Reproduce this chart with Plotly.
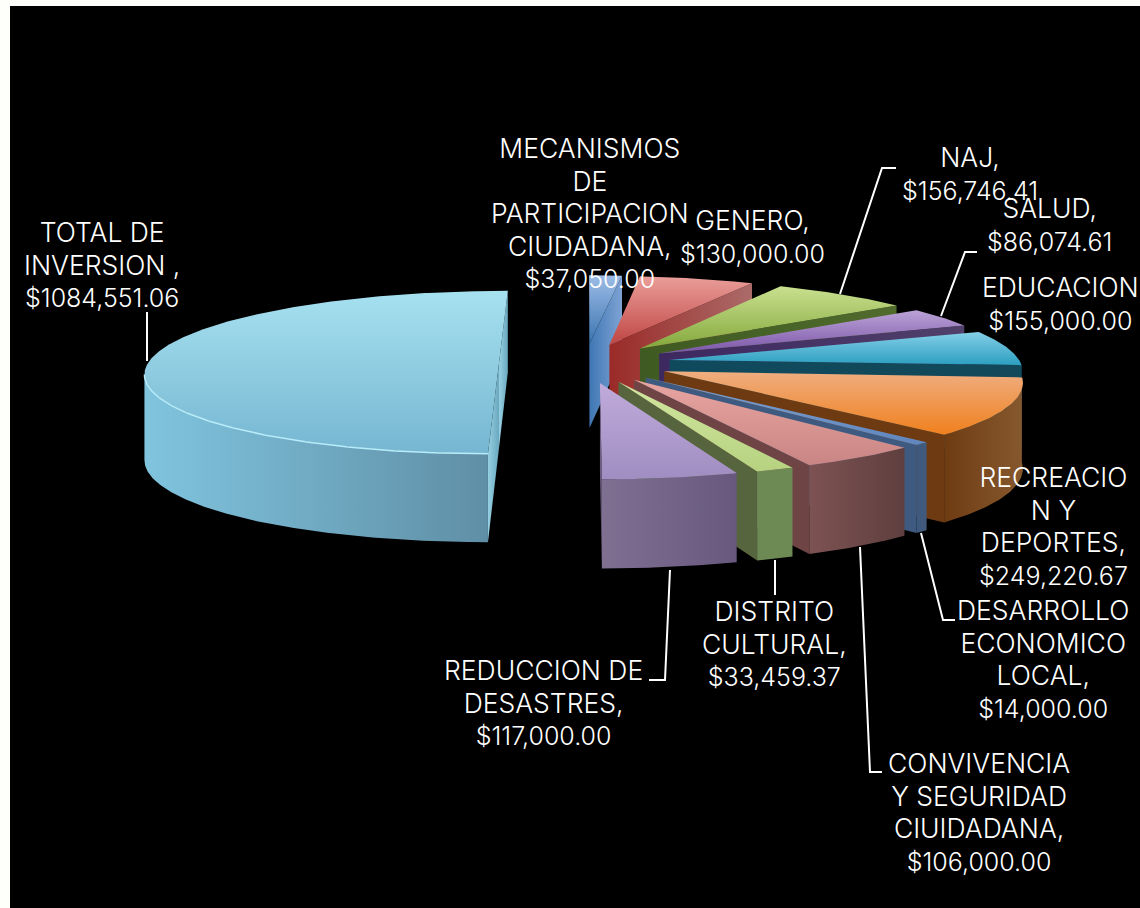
import math
import plotly.graph_objects as go

# ---------- data ----------
categories = ["MECANISMOS DE PARTICIPACION CIUDADANA", "GENERO", "NAJ", "SALUD", "EDUCACION",
              "RECREACION Y DEPORTES", "DESARROLLO ECONOMICO LOCAL", "CONVIVENCIA Y SEGURIDAD CIUIDADANA",
              "DISTRITO CULTURAL", "REDUCCION DE DESASTRES", "TOTAL DE INVERSION"]
values = [37050.00, 130000.00, 156746.41, 86074.61, 155000.00, 249220.67,
          14000.00, 106000.00, 33459.37, 117000.00, 1084551.06]
label_lines = [
    ["MECANISMOS", "DE", "PARTICIPACION", "CIUDADANA,", "$37,050.00"],
    ["GENERO,", "$130,000.00"],
    ["NAJ,", "$156,746.41"],
    ["SALUD,", "$86,074.61"],
    ["EDUCACION", "$155,000.00"],
    ["RECREACIO", "N Y", "DEPORTES,", "$249,220.67"],
    ["DESARROLLO", "ECONOMICO", "LOCAL,", "$14,000.00"],
    ["CONVIVENCIA", "Y SEGURIDAD", "CIUIDADANA,", "$106,000.00"],
    ["DISTRITO", "CULTURAL,", "$33,459.37"],
    ["REDUCCION DE", "DESASTRES,", "$117,000.00"],
    ["TOTAL DE", "INVERSION ,", "$1084,551.06"],
]

# ---------- styles ----------
top_colors = [("#9dbce6", "#3b74b0"), ("#ea9e9a", "#bf4643"), ("#c9e08f", "#84a83c"), ("#bba3d6", "#7b55a8"),
              ("#85cfe8", "#2c9fc0"), ("#efae80", "#f0801e"), ("#7fa2d2", "#5f86bd"), ("#e8a5a1", "#c98583"),
              ("#d2e7a0", "#b6d280"), ("#c0abdb", "#a08dc1"), ("#a6e1f0", "#76b6d1")]
cut_colors = [("#3f77b4", "#7ea3d4"), ("#9a2a27", "#ab6b69"), ("#3f5a22", "#506b2c"), ("#3d2860", "#50406a"),
              ("#0f4a5c", "#12485a"), ("#6e3a12", "#6e3a12"), ("#3e5a80", "#3e5a80"), ("#6e4444", "#6e4444"),
              ("#56653d", "#56653d"), ("#6d5d80", "#6d5d80"), ("#96d0e2", "#6aa8bf")]
wall_colors = [("#2f5f95", "#2f5f95"), ("#9a2a27", "#9a2a27"), ("#3f5a22", "#3f5a22"), ("#3d2860", "#3d2860"),
               ("#0f4a5c", "#0f4a5c"), ("#6f3c12", "#86582e"), ("#3e5a80", "#42597a"), ("#7d5252", "#5f3f3f"),
               ("#6d8a55", "#6d8a55"), ("#7f7092", "#68587e"), ("#80c4de", "#5f8fa6")]
BLACK, PAPER = "#000000", "#fefefa"
FONT = "Inter"
FONT_SIZE = 25
CAPS_SIZE = 26.5
FONT_WEIGHT = 300

# ---------- 3D pie projection, the scale that places all faces ----------
CX, CY, A, B, P, H, EXPLODE = 585.0, 363.0, 351.0, 80.4, 0.114, 85.0, 0.245


def proj(wx, wy, z=0.0):
    s = 1.0 / (1.0 + P * wy)
    return CX + A * wx * s, CY - B * wy * s + z * H * (1 - 0.04 * wy)


total = sum(values)
spans, acc = [], 0.0
for v in values:
    spans.append((acc, acc + v / total * 360.0))
    acc += v / total * 360.0


def shoelace(pts):
    return sum(pts[i][0] * pts[(i + 1) % len(pts)][1] - pts[(i + 1) % len(pts)][0] * pts[i][1]
               for i in range(len(pts)))


fig = go.Figure()


def face(pts, colors, orient, name):
    # the y axis runs downward, so a vertical gradient's first stop belongs at the bottom of the face
    cs = [[0, colors[1]], [1, colors[0]]] if orient == "vertical" else [[0, colors[0]], [1, colors[1]]]
    fig.add_trace(go.Scatter(
        x=[p[0] for p in pts] + [pts[0][0]], y=[p[1] for p in pts] + [pts[0][1]],
        mode="lines", line=dict(width=0), fill="toself",
        fillgradient=dict(type=orient, colorscale=cs),
        name=name, showlegend=False, hoverinfo="name"))


draw_order = [10] + list(range(10))
for i in draw_order:
    a0, a1 = spans[i]
    mid = math.radians((a0 + a1) / 2)
    ox, oy = EXPLODE * math.sin(mid), EXPLODE * math.cos(mid)
    def w(a_deg):
        r = math.radians(a_deg)
        return ox + math.sin(r), oy + math.cos(r)
    def cut(a_deg):
        wx, wy = w(a_deg)
        return [proj(ox, oy), proj(wx, wy), proj(wx, wy, 1), proj(ox, oy, 1)]
    c0, c1 = cut(a0), cut(a1)
    if shoelace(c0) < 0:
        face(c0, cut_colors[i], "horizontal", categories[i])
    if shoelace(c1) > 0:
        face(c1, cut_colors[i], "horizontal", categories[i])
    n = max(2, int(a1 - a0) * 2)
    arc = [a0 + (a1 - a0) * k / n for k in range(n + 1)]
    front = [a for a in arc if 90 <= a <= 272]
    if i == 10:
        # stop the wall at the silhouette, where the rim is furthest left
        leftmost = min(front, key=lambda a: proj(*w(a))[0])
        front = [a for a in front if a <= leftmost]
    if len(front) >= 2:
        upper = [proj(*w(a)) for a in front]
        lower = [proj(*w(a), 1) for a in front]
        face(upper + lower[::-1], wall_colors[i], "horizontal", categories[i])
    top = [proj(ox, oy)] + [proj(*w(a)) for a in arc]
    face(top, top_colors[i], "vertical", categories[i])
    if i == 10:
        rim = [proj(*w(a)) for a in arc if a <= leftmost]
        fig.add_trace(go.Scatter(x=[p[0] for p in rim], y=[p[1] for p in rim], mode="lines",
                                 line=dict(color="#b9ecfa", width=1.5), showlegend=False, hoverinfo="skip"))

# ---------- labels ----------
label_pos = [(590, 213), (752, 236), (970, 173), (1049, 224), (1060, 303), (1053, 526),
             (1043, 659), (979, 812), (774, 643), (543, 702), (102, 264)]


def styled(line):
    if line.startswith("$"):
        return line
    return f'<span style="font-size:{CAPS_SIZE}px">{line}</span>'


for lines, (lx, ly) in zip(label_lines, label_pos):
    fig.add_annotation(x=lx, y=ly, xref="x", yref="y", text="<br>".join(styled(s) for s in lines), showarrow=False,
                       align="center", xanchor="center", yanchor="middle",
                       font=dict(family=FONT, size=FONT_SIZE, color="#ffffff", weight=FONT_WEIGHT))

leaders = [[(147, 312), (147, 361)],
           [(840, 294), (882, 168), (896, 168)],
           [(941, 316), (965, 252), (977, 252)],
           [(921, 533), (943, 620), (955, 620)],
           [(860, 547), (870, 772), (882, 772)],
           [(775, 560), (775, 595)],
           [(670, 570), (665, 680), (649, 680)]]
for pts in leaders:
    path = "M " + " L ".join(f"{x} {y}" for x, y in pts)
    fig.add_shape(type="path", path=path, xref="x", yref="y", line=dict(color="#ffffff", width=2))

fig.update_layout(
    width=1140, height=908, autosize=False,
    margin=dict(l=10, r=0, t=6, b=0, pad=0),
    paper_bgcolor=PAPER, plot_bgcolor=BLACK,
    xaxis=dict(range=[10, 1140], visible=False, fixedrange=True),
    yaxis=dict(range=[908, 6], visible=False, fixedrange=True),
    showlegend=False,
)
fig.write_html("out.html", config={"displayModeBar": False},
               post_script="document.body.style.margin='0';document.body.style.background='#fefefa';")
